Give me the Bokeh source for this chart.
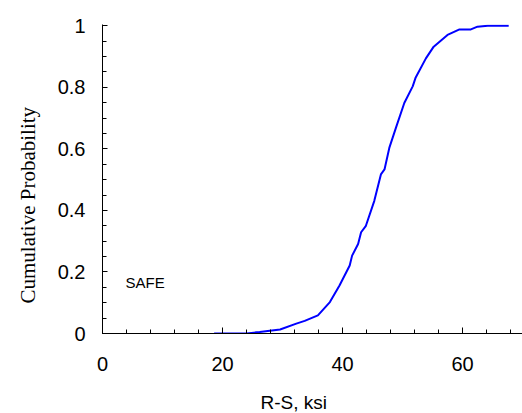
from bokeh.plotting import figure
from bokeh.models import FixedTicker, Range1d, Label, Title
from bokeh.embed import file_html
from bokeh.resources import INLINE

# Data
rs_ksi = [18.6, 24.0, 26.2, 29.6, 32.3, 33.7, 35.9, 37.9, 39.5, 41.2, 41.6, 42.6,
          43.1, 43.9, 45.3, 46.4, 47.0, 47.8, 48.9, 50.3, 51.7, 52.2, 53.9, 55.2,
          57.5, 59.5, 61.4, 62.5, 64.2, 67.7]
cum_prob = [0.0, 0.0, 0.005, 0.013, 0.032, 0.041, 0.059, 0.102, 0.156, 0.221, 0.253, 0.291,
            0.329, 0.35, 0.431, 0.517, 0.533, 0.603, 0.668, 0.749, 0.803, 0.832, 0.894, 0.932,
            0.970, 0.988, 0.988, 0.997, 1.0, 1.0]
x_major = [0, 20, 40, 60]
x_minor = list(range(0, 71, 4))
y_major = [0, 0.2, 0.4, 0.6, 0.8, 1.0]
y_minor = [i * 0.05 for i in range(21)]
y_tick_labels = {0: "0", 0.2: "0.2", 0.4: "0.4", 0.6: "0.6", 0.8: "0.8", 1.0: "1"}

p = figure(width=522, height=440, output_backend="svg", toolbar_location=None,
           x_range=Range1d(0, 70), y_range=Range1d(0, 1.004),
           min_border_left=102, min_border_right=0, min_border_top=24, min_border_bottom=107)
p.outline_line_color = None
p.grid.visible = False
p.background_fill_color = "white"
p.border_fill_color = "white"

p.line(rs_ksi, cum_prob, line_color="#0000ff", line_width=2)

for ax in (p.xaxis[0], p.yaxis[0]):
    ax.axis_line_color = "black"
    ax.axis_line_width = 1
    ax.major_tick_line_color = "black"
    ax.minor_tick_line_color = "black"
    ax.major_tick_out = 0
    ax.minor_tick_out = 0
    ax.major_label_text_font = "Liberation Sans"
    ax.major_label_text_font_size = "20px"
    ax.major_label_text_color = "black"

p.xaxis[0].ticker = FixedTicker(ticks=x_major, minor_ticks=x_minor)
p.xaxis[0].major_tick_in = 6
p.xaxis[0].minor_tick_in = 4
p.xaxis[0].major_label_standoff = 23

p.yaxis[0].ticker = FixedTicker(ticks=y_major, minor_ticks=y_minor)
p.yaxis[0].major_label_overrides = y_tick_labels
p.yaxis[0].major_tick_in = 5
p.yaxis[0].minor_tick_in = 4
p.yaxis[0].major_label_standoff = 17

p.add_layout(Title(text="Cumulative Probability", align="left", offset=30,
                   vertical_align="top",
                   text_font="Liberation Serif", text_font_size="21px",
                   text_font_style="normal", text_color="black", standoff=26), "left")
p.add_layout(Title(text="R-S, ksi", align="left", offset=158,
                   text_font="Liberation Sans", text_font_size="19px",
                   text_font_style="normal", text_color="black", standoff=33), "below")
p.add_layout(Label(x=3.83, y=0.167, text="SAFE", text_align="left",
                   text_baseline="alphabetic", text_font="Liberation Sans",
                   text_font_size="15px", text_color="black"))

open("out.html", "w").write(file_html(p, INLINE))
